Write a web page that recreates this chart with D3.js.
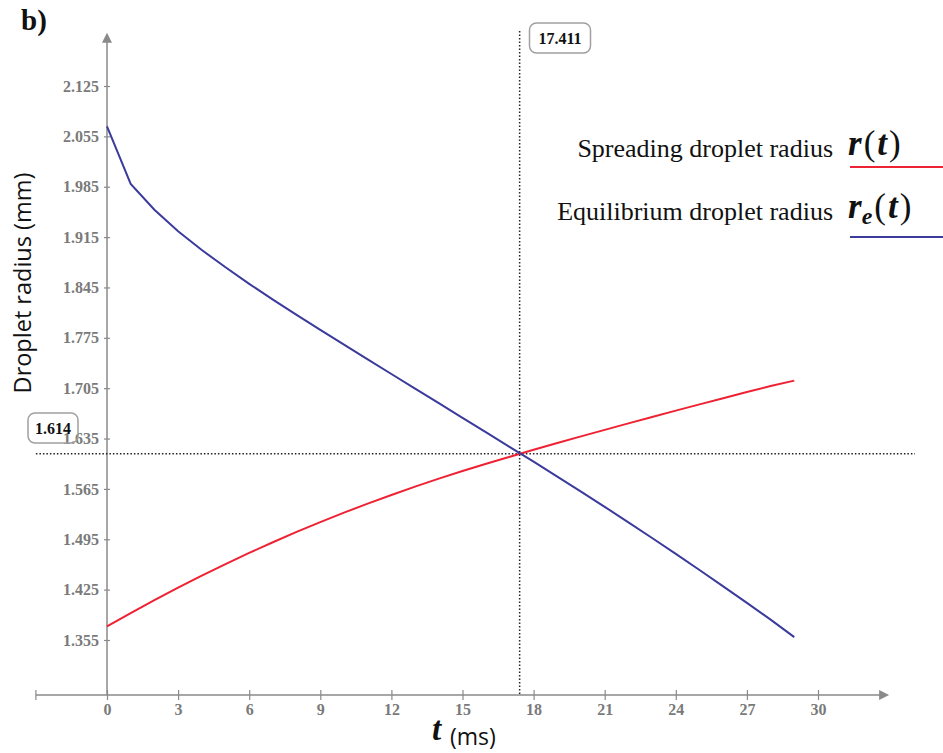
<html lang="en">
<head>
  <meta charset="UTF-8">
  <title>Droplet radius</title>
  <style>
    body { margin: 0; background: #fff; }
  </style>
</head>
<body>
  <script src="https://d3js.org/d3.v7.min.js"></script>
  <div id="chart"></div>
  <script>
    // time in ms
    let times = d3.range(0, 30);
    // spreading droplet radius r(t), mm
    let spreading = [1.3740, 1.3925, 1.4104, 1.4277, 1.4444, 1.4605, 1.4760, 1.4909, 1.5052, 1.5189,
                     1.5320, 1.5445, 1.5566, 1.5682, 1.5793, 1.5899, 1.6000, 1.6098, 1.6194, 1.6288,
                     1.6380, 1.6471, 1.6561, 1.6650, 1.6738, 1.6825, 1.6911, 1.6996, 1.7080, 1.7155];
    // equilibrium droplet radius re(t), mm
    let equilibrium = [2.069, 1.989, 1.953, 1.923, 1.897, 1.873, 1.850, 1.828, 1.807, 1.786,
                       1.7655, 1.745, 1.7247, 1.7044, 1.6841, 1.6638, 1.6435, 1.6232, 1.6028, 1.5822,
                       1.5613, 1.5401, 1.5186, 1.4968, 1.4747, 1.4523, 1.4296, 1.4066, 1.3833, 1.3590];
    let xTicks = [0, 3, 6, 9, 12, 15, 18, 21, 24, 27, 30];
    let yTicks = [1.355, 1.425, 1.495, 1.565, 1.635, 1.705, 1.775, 1.845, 1.915, 1.985, 2.055, 2.125];
    let crossT = 17.411, crossR = 1.614;

    function translate(x, y) { return 'translate(' + x + ',' + y + ')'; }

    let width = 943, height = 753;
    let axisColor = '#8a8a8a';
    let tickFont = '"Liberation Serif", serif';

    let svg = d3.select('#chart').append('svg')
      .attr('width', width)
      .attr('height', height);

    let x = d3.scaleLinear().domain([0, 30]).range([107, 818]);
    let y = d3.scaleLinear().domain([1.355, 2.125]).range([640, 86]);

    let xMin = -3, xMax = 33, yMin = 1.2786, yMax = 2.199;

    // axes lines
    svg.append('line')
      .attr('x1', x(xMin)).attr('x2', x(xMax) - 2)
      .attr('y1', y(yMin)).attr('y2', y(yMin))
      .attr('stroke', axisColor).attr('stroke-width', 1.5);
    svg.append('line')
      .attr('x1', x(0)).attr('x2', x(0))
      .attr('y1', y(yMin)).attr('y2', y(yMax) + 2)
      .attr('stroke', axisColor).attr('stroke-width', 1.5);

    // arrow heads
    svg.append('path')
      .attr('d', 'M' + x(xMax) + ',' + y(yMin) + ' l-10,-5 l0,10 z')
      .attr('fill', axisColor);
    svg.append('path')
      .attr('d', 'M' + x(0) + ',' + y(yMax) + ' l-5,10 l10,0 z')
      .attr('fill', axisColor);

    // x ticks
    let xAxis = svg.append('g')
      .attr('transform', translate(0, y(yMin)))
      .call(d3.axisBottom(x).tickValues(xTicks).tickSize(5).tickPadding(4).tickFormat(d3.format('d')));
    xAxis.select('.domain').remove();
    xAxis.selectAll('.tick line').attr('y1', -5).attr('stroke', axisColor).attr('stroke-width', 1.2);
    xAxis.selectAll('text')
      .attr('fill', '#7a7a7a')
      .style('font-family', tickFont)
      .style('font-weight', 'bold')
      .style('font-size', '16px');
    // end tick at left of x axis
    svg.append('line')
      .attr('x1', x(xMin)).attr('x2', x(xMin))
      .attr('y1', y(yMin) - 5).attr('y2', y(yMin) + 5)
      .attr('stroke', axisColor).attr('stroke-width', 1.2);

    // y ticks
    let yAxis = svg.append('g')
      .attr('transform', translate(x(0), 0))
      .call(d3.axisLeft(y).tickValues(yTicks).tickSize(3).tickPadding(5).tickFormat(d3.format('.3f')));
    yAxis.select('.domain').remove();
    yAxis.selectAll('.tick line').attr('x1', 3).attr('stroke', axisColor).attr('stroke-width', 1.2);
    yAxis.selectAll('text')
      .attr('fill', '#7a7a7a')
      .style('font-family', tickFont)
      .style('font-weight', 'bold')
      .style('font-size', '16px');

    // dotted reference lines
    svg.append('line')
      .attr('x1', x(xMin)).attr('x2', 915)
      .attr('y1', y(crossR)).attr('y2', y(crossR))
      .attr('stroke', '#222').attr('stroke-width', 1.5)
      .style('stroke-dasharray', '1.5, 2');
    svg.append('line')
      .attr('x1', x(crossT)).attr('x2', x(crossT))
      .attr('y1', 31).attr('y2', y(yMin))
      .attr('stroke', '#222').attr('stroke-width', 1.5)
      .style('stroke-dasharray', '1.5, 2');

    // curves
    let line = d3.line().x((d, i) => x(times[i])).y(d => y(d));
    svg.append('path')
      .datum(spreading)
      .attr('fill', 'none')
      .attr('stroke', '#ee2233')
      .attr('stroke-width', 2)
      .attr('d', line);
    svg.append('path')
      .datum(equilibrium)
      .attr('fill', 'none')
      .attr('stroke', '#3b3b9c')
      .attr('stroke-width', 2)
      .attr('d', line);

    // value boxes
    function valueBox(cx, cy, w, label) {
      svg.append('rect')
        .attr('x', cx - w / 2).attr('y', cy - 15)
        .attr('width', w).attr('height', 30)
        .attr('rx', 7)
        .attr('fill', 'none')
        .attr('stroke', '#a0a0a0')
        .attr('stroke-width', 1.5);
      svg.append('text')
        .attr('x', cx).attr('y', cy)
        .attr('dy', '0.35em')
        .attr('text-anchor', 'middle')
        .style('font-family', tickFont)
        .style('font-weight', 'bold')
        .style('font-size', '16px')
        .attr('fill', '#111')
        .text(label);
    }
    valueBox(53, 428, 50, d3.format('.3f')(crossR));
    valueBox(560, 38, 61, d3.format('.3f')(crossT));

    // panel label
    svg.append('text')
      .attr('x', 21).attr('y', 30)
      .style('font-family', tickFont)
      .style('font-weight', 'bold')
      .style('font-size', '29px')
      .attr('fill', '#111')
      .text('b)');

    // y axis title
    svg.append('text')
      .attr('transform', translate(31, 283) + ' rotate(-90)')
      .attr('text-anchor', 'middle')
      .style('font-family', '"Open Sans", sans-serif')
      .style('font-size', '23.5px')
      .attr('fill', '#111')
      .text('Droplet radius (mm)');

    // x axis title
    svg.append('text')
      .attr('x', 432).attr('y', 740)
      .style('font-family', tickFont)
      .style('font-weight', 'bold')
      .style('font-style', 'italic')
      .style('font-size', '33px')
      .attr('fill', '#111')
      .text('t');
    svg.append('text')
      .attr('x', 450).attr('y', 745)
      .style('font-family', '"Open Sans", sans-serif')
      .style('font-size', '23px')
      .attr('fill', '#111')
      .text('(ms)');

    // legend
    let legendKeys = ['Spreading droplet radius', 'Equilibrium droplet radius'];
    let legendColor = ['#ee2233', '#3b3b9c'];
    let legendY = [157, 220];
    let legendLineY = [167, 237];
    legendKeys.forEach((k, i) => {
      svg.append('text')
        .attr('x', 833).attr('y', legendY[i])
        .attr('text-anchor', 'end')
        .style('font-family', tickFont)
        .style('font-size', '26px')
        .attr('fill', '#111')
        .text(k);
      svg.append('line')
        .attr('x1', 850).attr('x2', 943)
        .attr('y1', legendLineY[i]).attr('y2', legendLineY[i])
        .attr('stroke', legendColor[i])
        .attr('stroke-width', 2);
      let m = svg.append('text')
        .attr('x', 848).attr('y', legendY[i] - 2)
        .style('font-family', tickFont)
        .style('font-size', '35px')
        .attr('fill', '#111');
      m.append('tspan').style('font-weight', 'bold').style('font-style', 'italic').text('r');
      if (i === 1) {
        m.append('tspan').attr('dy', 6).style('font-weight', 'bold').style('font-style', 'italic')
          .style('font-size', '24px').text('e');
        m.append('tspan').attr('dy', -6).attr('dx', 2).text('(');
      } else {
        m.append('tspan').attr('dx', 2).text('(');
      }
      m.append('tspan').attr('dx', 2).style('font-weight', 'bold').style('font-style', 'italic').text('t');
      m.append('tspan').attr('dx', 2).text(')');
    });
  </script>
</body>
</html>
